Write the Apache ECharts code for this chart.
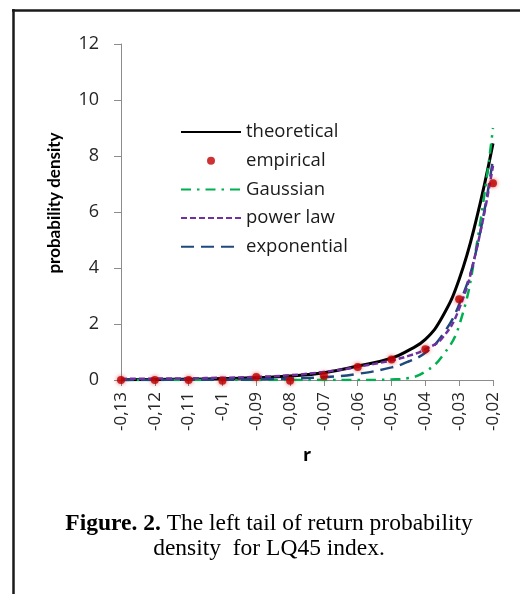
<!DOCTYPE html>
<html>
<head>
<meta charset="utf-8">
<script src="https://cdn.jsdelivr.net/npm/echarts@6/dist/echarts.min.js"></script>
<style>html,body{margin:0;padding:0;background:#fff}#c{width:520px;height:594px}</style>
</head>
<body>
<div id="c"></div>
<script>
// Data
var rEmpirical = [-0.13,-0.12,-0.11,-0.10,-0.09,-0.08,-0.07,-0.06,-0.05,-0.04,-0.03,-0.02];
var empirical  = [0.0, 0.0, 0.0, -0.03, 0.11, -0.03, 0.15, 0.46, 0.73, 1.10, 2.88, 7.03];

var rCurve      = [-0.13,-0.12,-0.11,-0.10,-0.09,-0.08,-0.07,-0.06,-0.05,-0.045,-0.04,-0.035,-0.03,-0.025,-0.02];
var theoretical = [0.01, 0.02, 0.03, 0.05, 0.08, 0.14, 0.26, 0.50, 0.78, 1.06, 1.45, 2.25, 3.6, 5.7, 8.45];
var gaussian    = [0, 0, 0, 0, 0, 0, 0, 0, 0.02, 0.07, 0.3, 0.85, 1.95, 4.7, 9.0];
var powerLaw    = [0.04, 0.05, 0.06, 0.08, 0.11, 0.17, 0.29, 0.47, 0.70, 0.86, 1.1, 1.5, 2.55, 4.6, 7.65];
var exponential = [0.0, 0.0, 0.01, 0.01, 0.02, 0.05, 0.10, 0.22, 0.45, 0.66, 0.97, 1.6, 2.7, 4.6, 7.9];

var seriesNames = ['theoretical', 'empirical', 'Gaussian', 'power law', 'exponential'];
var yTicks = [0, 2, 4, 6, 8, 10, 12];
var xTickMin = -0.13, xTickMax = -0.02, xTickStep = 0.01;
var caption = ['Figure. 2.', 'The left tail of return probability', 'density  for LQ45 index.'];

function pairs(xs, ys) { return xs.map(function (x, i) { return [x, ys[i]]; }); }

var chart = echarts.init(document.getElementById('c'), null, { renderer: 'canvas' });
var hide = { color: 'rgba(0,0,0,0)', borderWidth: 0 };
var font = '"Open Sans", Lato, sans-serif';
var fontNarrow = 'Lato, "Open Sans", sans-serif';

chart.setOption({
  animation: false,
  backgroundColor: '#fff',
  grid: { left: 121, right: 27, top: 44, bottom: 214, containLabel: false },
  title: {
    text: '{b|' + caption[0] + '} ' + caption[1] + '\n' + caption[2],
    left: 269, top: 511, textAlign: 'center', padding: 0,
    textStyle: {
      fontFamily: '"Liberation Serif", serif', fontSize: 23.5, fontWeight: 'normal',
      color: '#000', lineHeight: 25,
      rich: { b: { fontFamily: '"Liberation Serif", serif', fontSize: 23.5, fontWeight: 'bold', color: '#000', lineHeight: 25 } }
    }
  },
  legend: {
    orient: 'vertical', left: 180, top: 122, padding: 0,
    itemWidth: 60, itemHeight: 8, itemGap: 8.7,
    textStyle: { fontFamily: font, fontSize: 18.5, color: '#1a1a1a', lineHeight: 20 },
    data: [
      { name: seriesNames[0], itemStyle: hide },
      { name: seriesNames[1], icon: 'circle' },
      { name: seriesNames[2], itemStyle: hide },
      { name: seriesNames[3], itemStyle: hide },
      { name: seriesNames[4], itemStyle: hide }
    ]
  },
  xAxis: {
    type: 'value', min: xTickMin, max: xTickMax, interval: xTickStep,
    name: 'r', nameLocation: 'middle', nameGap: 67,
    nameTextStyle: { fontFamily: font, fontSize: 18, fontWeight: 'bold', color: '#000' },
    axisLine: { show: true, onZero: false, lineStyle: { color: '#8c8c8c', width: 1 } },
    axisTick: { show: true, length: 6, lineStyle: { color: '#8c8c8c' } },
    splitLine: { show: false },
    axisLabel: {
      rotate: 90, margin: 12, fontFamily: font, fontSize: 17, color: '#262626',
      showMinLabel: true, showMaxLabel: true,
      formatter: function (v) { return String(+v.toFixed(2)).replace('.', ','); }
    }
  },
  yAxis: {
    type: 'value', min: yTicks[0], max: yTicks[yTicks.length - 1], interval: yTicks[1] - yTicks[0],
    name: 'probability density', nameLocation: 'middle', nameGap: 58,
    nameTextStyle: { fontFamily: fontNarrow, fontSize: 17, fontWeight: 'bold', color: '#000', padding: [0, 0, 0, 18] },
    axisLine: { show: true, lineStyle: { color: '#8c8c8c', width: 1 } },
    axisTick: { show: true, length: 7, lineStyle: { color: '#8c8c8c' } },
    splitLine: { show: false },
    axisLabel: { margin: 22, fontFamily: font, fontSize: 18, color: '#262626' }
  },
  series: [
    {
      name: seriesNames[0], type: 'line', data: pairs(rCurve, theoretical),
      smooth: 0.45, showSymbol: false, symbol: 'none', z: 3,
      lineStyle: { color: '#000000', width: 3 }, itemStyle: { color: '#000000' }
    },
    {
      name: seriesNames[1], type: 'scatter', data: pairs(rEmpirical, empirical),
      symbol: 'circle', symbolSize: 8, z: 10, clip: false,
      itemStyle: { color: '#c00000', shadowBlur: 4, shadowColor: 'rgba(192,0,0,0.7)' }
    },
    {
      name: seriesNames[2], type: 'line', data: pairs(rCurve, gaussian),
      smooth: 0.45, showSymbol: false, symbol: 'none', z: 4,
      lineStyle: { color: '#00b050', width: 2.5, type: [10, 6, 2.5, 6] }, itemStyle: { color: '#00b050' }
    },
    {
      name: seriesNames[3], type: 'line', data: pairs(rCurve, powerLaw),
      smooth: 0.45, showSymbol: false, symbol: 'none', z: 5,
      lineStyle: { color: '#7030a0', width: 2.5, type: [6, 3] }, itemStyle: { color: '#7030a0' }
    },
    {
      name: seriesNames[4], type: 'line', data: pairs(rCurve, exponential),
      smooth: 0.45, showSymbol: false, symbol: 'none', z: 4,
      lineStyle: { color: '#1f497d', width: 2.5, type: [13, 7] }, itemStyle: { color: '#1f497d' }
    }
  ],
  graphic: [
    { type: 'line', shape: { x1: 13.5, y1: 9, x2: 13.5, y2: 594 }, style: { stroke: '#1a1a1a', lineWidth: 2.5 } },
    { type: 'line', shape: { x1: 12, y1: 10.5, x2: 520, y2: 10.5 }, style: { stroke: '#1a1a1a', lineWidth: 2.5 } }
  ]
});
</script>
</body>
</html>
